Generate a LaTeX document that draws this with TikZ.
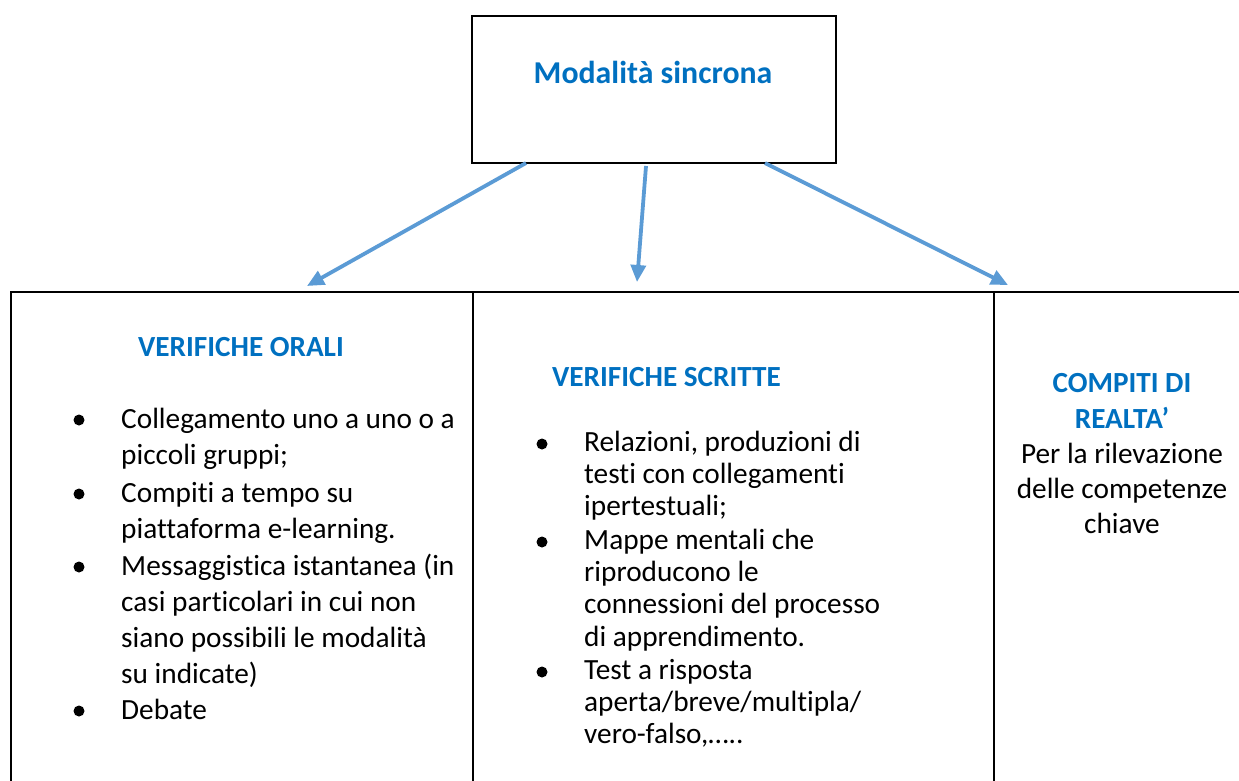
\documentclass[tikz,border=0pt]{standalone}
\usepackage{fontspec}
\setmainfont{Carlito}[Ligatures=NoCommon]
\usetikzlibrary{arrows.meta}
\definecolor{headblue}{HTML}{0070C0}
\definecolor{arrowblue}{HTML}{5B9BD5}
\begin{document}
\begin{tikzpicture}[x=1pt,y=-1pt,
  box/.style={draw=black,line width=2.4pt,inner sep=0,anchor=north west},
  col/.style={draw=black,line width=2.2pt,anchor=north west,minimum height=540pt,inner sep=0},
  titletext/.style={text=headblue,font=\bfseries\fontsize{31.8}{38}\selectfont,inner sep=0,anchor=base},
  heading/.style={text=headblue,font=\bfseries\fontsize{29.2}{36}\selectfont,inner sep=0},
  conn/.style={draw=arrowblue,line width=3.8pt,-{Triangle[length=17pt,width=15pt]}},
  bul/.style={circle,fill=black,inner sep=0,minimum size=11pt},
  bodyL/.style={align=left,anchor=base west,inner sep=0,font=\fontsize{29.3}{36.3}\selectfont},
  bodyM/.style={align=left,anchor=base west,inner sep=0,font=\fontsize{29.3}{32.4}\selectfont},
  bodyR/.style={align=center,anchor=base,inner sep=0,font=\fontsize{29.3}{35}\selectfont}
]
\useasboundingbox (0,0) rectangle (1239,780);
\clip (0,0) rectangle (1239,780);

% top box
\node[box,minimum width=364pt,minimum height=147pt] (top) at (471,15) {};
\node[titletext] (title) at (653,83) {Modalità sincrona};

% columns
\node[col,minimum width=462pt] (oral) at (10,291) {};
\node[col,minimum width=521pt] (written) at (472,291) {};
\node[col,minimum width=280pt] (real) at (993,291) {};

% connectors
\coordinate (s1) at (526,163);
\coordinate (t1) at (307,286);
\coordinate (s2) at (646,166);
\coordinate (t2) at (637,282);
\coordinate (s3) at (765,163);
\coordinate (t3) at (1008,285);
\draw[conn] (s1) -- (t1);
\draw[conn] (s2) -- (t2);
\draw[conn] (s3) -- (t3);

% left column (base anchor = baseline of last line)
\node[heading,anchor=base west] (h1) at (138,356) {VERIFICHE ORALI};
\node[bul] (b11) at (79,420) {};
\node[bodyL] (i11) at (121,464.3) {Collegamento uno a uno o a\\piccoli gruppi;};
\node[bul] (b12) at (79,494) {};
\node[bodyL] (i12) at (121,538.3) {Compiti a tempo su\\piattaforma e-learning.};
\node[bul] (b13) at (79,567) {};
\node[bodyL] (i13) at (121,683.9) {Messaggistica istantanea (in\\casi particolari in cui non\\siano possibili le modalità\\su indicate)};
\node[bul] (b14) at (79,711) {};
\node[bodyL] (i14) at (121,719) {Debate};

% middle column
\node[heading,anchor=base west] (h2) at (552,386) {VERIFICHE SCRITTE};
\node[bul] (b21) at (542,444) {};
\node[bodyM] (i21) at (584,515.8) {Relazioni, produzioni di\\testi con collegamenti\\ipertestuali;};
\node[bul] (b22) at (542,542) {};
\node[bodyM] (i22) at (584,646.2) {Mappe mentali che\\riproducono le\\connessioni del processo\\di apprendimento.};
\node[bul] (b23) at (542,672) {};
\node[bodyM] (i23) at (584,743.8) {Test a risposta\\aperta/breve/multipla/\\vero-falso,…..};

% right column
\node[heading,align=center,anchor=base] (h3) at (1122,428) {COMPITI DI\\REALTA’};
\node[bodyR] (i31) at (1122,533) {Per la rilevazione\\delle competenze\\chiave};
\end{tikzpicture}
\end{document}
